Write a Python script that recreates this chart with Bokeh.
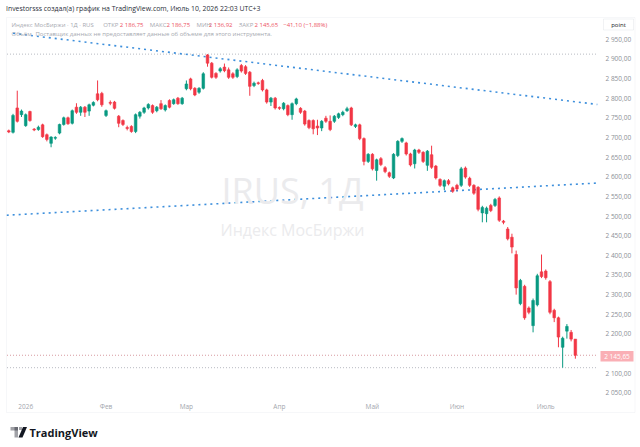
from bokeh.plotting import figure
from bokeh.models import (Label, BoxAnnotation, PolyAnnotation, FixedTicker,
                          Range1d, ColumnDataSource)
from bokeh.embed import file_html
from bokeh.resources import INLINE

# ---------------- data ----------------
ticker = "IRUS"
interval = "1Д"
exchange = "RUS"
instrument = "Индекс МосБиржи"
author_line = "Investorsss создал(а) график на TradingView.com, Июль 10, 2026 22:03 UTC+3"

opens = [2717, 2713, 2775, 2758, 2730, 2766, 2721, 2720, 2732, 2707,
         2685, 2698, 2711, 2733, 2750, 2736, 2777, 2764, 2777, 2767,
         2782, 2811, 2812, 2756, 2789, 2790, 2754, 2743, 2725, 2728,
         2715, 2754, 2764, 2775, 2781, 2768, 2786, 2770, 2794, 2786,
         2800, 2786, 2824, 2849, 2825, 2815, 2825, 2910, 2889, 2863,
         2869, 2879, 2872, 2862, 2855, 2883, 2880, 2866, 2832, 2839,
         2845, 2821, 2790, 2800, 2776, 2773, 2781, 2758, 2786, 2774,
         2767, 2743, 2743, 2729, 2724, 2749, 2741, 2741, 2751, 2758,
         2768, 2775, 2728, 2732, 2697, 2639, 2657, 2616, 2646, 2623,
         2610, 2597, 2654, 2690, 2686, 2658, 2633, 2668, 2662, 2629,
         2656, 2627, 2593, 2576, 2590, 2572, 2578, 2578, 2622, 2596,
         2578, 2573, 2508, 2506, 2527, 2527, 2546, 2487, 2467, 2446,
         2402, 2277, 2321, 2266, 2221, 2274, 2358, 2360, 2333, 2260,
         2241, 2166, 2207, 2204, 2186.75]
highs = [2720, 2760, 2819, 2771, 2761, 2768, 2724, 2730, 2735, 2710,
         2703, 2703, 2735, 2753, 2753, 2771, 2787, 2780, 2780, 2786,
         2792, 2845, 2816, 2771, 2794, 2793, 2757, 2746, 2730, 2731,
         2761, 2767, 2778, 2787, 2784, 2780, 2795, 2784, 2797, 2799,
         2803, 2803, 2845, 2852, 2828, 2828, 2866, 2912, 2892, 2866,
         2879, 2888, 2878, 2866, 2876, 2887, 2884, 2869, 2842, 2842,
         2849, 2824, 2803, 2803, 2779, 2790, 2784, 2789, 2801, 2777,
         2770, 2746, 2746, 2745, 2744, 2755, 2756, 2757, 2763, 2768,
         2778, 2778, 2735, 2735, 2700, 2660, 2660, 2646, 2650, 2627,
         2613, 2660, 2693, 2700, 2689, 2661, 2671, 2671, 2665, 2668,
         2679, 2630, 2596, 2593, 2594, 2575, 2582, 2625, 2626, 2600,
         2581, 2576, 2526, 2524, 2531, 2546, 2550, 2490, 2472, 2455,
         2412, 2340, 2325, 2270, 2290, 2353, 2402, 2364, 2337, 2264,
         2244, 2193, 2225, 2210, 2186.75]
lows = [2711, 2710, 2738, 2752, 2727, 2740, 2716, 2717, 2699, 2690,
        2675, 2694, 2708, 2730, 2732, 2733, 2760, 2755, 2752, 2755,
        2779, 2792, 2778, 2752, 2782, 2771, 2726, 2729, 2718, 2712,
        2711, 2748, 2760, 2771, 2760, 2764, 2770, 2766, 2774, 2783,
        2783, 2783, 2820, 2820, 2805, 2811, 2822, 2880, 2850, 2849,
        2865, 2866, 2849, 2849, 2851, 2865, 2859, 2806, 2828, 2834,
        2817, 2786, 2780, 2771, 2770, 2769, 2754, 2745, 2782, 2760,
        2730, 2721, 2708, 2706, 2716, 2737, 2716, 2737, 2747, 2754,
        2765, 2729, 2724, 2693, 2629, 2635, 2616, 2590, 2627, 2609,
        2597, 2594, 2650, 2686, 2654, 2626, 2621, 2658, 2635, 2615,
        2620, 2593, 2574, 2566, 2578, 2559, 2565, 2574, 2595, 2574,
        2554, 2512, 2484, 2484, 2510, 2523, 2485, 2479, 2438, 2405,
        2300, 2273, 2236, 2250, 2204, 2270, 2342, 2338, 2250, 2230,
        2166, 2114, 2188, 2181, 2136.92]
closes = [2714, 2756, 2741, 2767, 2758, 2743, 2719, 2726, 2702, 2695,
          2701, 2700, 2733, 2750, 2735, 2768, 2764, 2777, 2764, 2783,
          2789, 2796, 2783, 2768, 2787, 2774, 2736, 2733, 2723, 2715,
          2758, 2764, 2775, 2784, 2764, 2777, 2773, 2781, 2777, 2796,
          2786, 2800, 2836, 2824, 2808, 2825, 2862, 2889, 2853, 2853,
          2875, 2870, 2853, 2853, 2872, 2869, 2863, 2830, 2838, 2837,
          2821, 2790, 2800, 2775, 2774, 2787, 2758, 2786, 2798, 2764,
          2734, 2725, 2722, 2724, 2741, 2741, 2720, 2754, 2760, 2764,
          2773, 2732, 2732, 2697, 2639, 2657, 2620, 2643, 2631, 2613,
          2601, 2657, 2690, 2697, 2658, 2630, 2668, 2662, 2639, 2665,
          2624, 2597, 2578, 2590, 2582, 2563, 2569, 2620, 2599, 2578,
          2558, 2517, 2522, 2520, 2514, 2542, 2489, 2484, 2442, 2421,
          2317, 2336, 2241, 2255, 2285, 2348, 2346, 2343, 2255, 2241,
          2192, 2189, 2219, 2186.75, 2145.65]

month_ticks = [4, 23, 42, 64, 86, 106, 127]
month_labels = ["2026", "Фев", "Мар", "Апр", "Май", "Июн", "Июль"]
# 2 150 is hidden behind the last-price badge, as in the original
price_ticks = [2050, 2100, 2200, 2250, 2300, 2350, 2400, 2450, 2500,
               2550, 2600, 2650, 2700, 2750, 2800, 2850, 2900, 2950]

trend_upper_x = [1, 139.2]
trend_upper_y = [2965, 2784]
trend_lower_x = [-0.5, 139.2]
trend_lower_y = [2502, 2584]
hline_levels = [2912, 2114]

# ---------------- helpers ----------------
def fmt(v):
    return f"{v:,.2f}".replace(",", " ").replace(".", ",")

def fmt_signed(v):
    return ("\u2212" if v < 0 else "+") + fmt(abs(v))

# canvas-pixel -> data mapping used to place decorations
PX0, PXS = 8.3, 4.228
PY0, PYS = 38.7, 334.0 / 850.0

def dx(px):
    return (px - PX0) / PXS

def dy(py):
    return 2950 - (py - PY0) / PYS

UP = "#089981"
DOWN = "#F23645"
FONT = "Open Sans"
W, H = 640, 447

p = figure(width=W, height=H,
           x_range=Range1d(dx(0), dx(W)), y_range=Range1d(dy(H), dy(0)),
           y_axis_location="right", output_backend="svg", toolbar_location=None,
           min_border=0, min_border_left=0, min_border_right=0,
           min_border_top=0, min_border_bottom=0)
p.background_fill_color = "white"
p.border_fill_color = "white"
p.outline_line_color = None
p.grid.visible = False

# axes (drawn at the chart pane edges)
p.xaxis.ticker = FixedTicker(ticks=month_ticks)
p.xaxis.major_label_overrides = {t: l for t, l in zip(month_ticks, month_labels)}
p.xaxis.fixed_location = dy(398)
p.yaxis.ticker = FixedTicker(ticks=price_ticks)
p.yaxis.major_label_overrides = {t: fmt(t) for t in price_ticks}
p.yaxis.fixed_location = dx(598)
for ax in (p.xaxis, p.yaxis):
    ax.axis_line_color = None
    ax.major_tick_line_color = None
    ax.minor_tick_line_color = None
    ax.major_tick_out = 0
    ax.major_tick_in = 0
    ax.major_label_text_font = FONT
    ax.major_label_text_font_size = "6.5px"
p.xaxis.major_label_text_color = "#a3a6ad"
p.xaxis.major_label_standoff = 3
p.yaxis.major_label_text_color = "#8c8f96"
p.yaxis.major_label_standoff = 7

# pane border
p.add_layout(BoxAnnotation(left=dx(6), right=dx(634.5), top=dy(17), bottom=dy(412),
                           fill_color=None, line_color="#e0e3eb", line_width=1))

# watermark
p.add_layout(Label(x=dx(292), y=dy(190), text=f"{ticker}, {interval}", text_align="center",
                   text_baseline="middle", text_font=FONT, text_font_size="36px",
                   text_color="#ebebed"))
p.add_layout(Label(x=dx(292), y=dy(229), text=instrument, text_align="center",
                   text_baseline="middle", text_font=FONT, text_font_size="16px",
                   text_color="#ebebed"))

# horizontal levels & last-price line (inside the pane only)
xl, xr = dx(6.5), dx(597)
p.segment(x0=[xl] * len(hline_levels), y0=hline_levels, x1=[xr] * len(hline_levels),
          y1=hline_levels, line_color="#b8bbc2", line_width=1, line_dash="1 2")
p.segment(x0=[xl], y0=[closes[-1]], x1=[xr], y1=[closes[-1]],
          line_color="#d79aa0", line_width=1, line_dash="1 2")

# trend lines
p.line(trend_upper_x, trend_upper_y, line_color="#3d8fdc", line_width=1.6, line_dash="2 4")
p.line(trend_lower_x, trend_lower_y, line_color="#3d8fdc", line_width=1.6, line_dash="2 4")

# candles
idx = list(range(len(opens)))
colors = [UP if c > o else DOWN for o, c in zip(opens, closes)]
src = ColumnDataSource(dict(x=idx, h=highs, l=lows,
                            top=[max(o, c) for o, c in zip(opens, closes)],
                            bottom=[min(o, c) for o, c in zip(opens, closes)],
                            color=colors))
p.segment(x0="x", y0="h", x1="x", y1="l", source=src, line_color="color", line_width=1)
p.vbar(x="x", width=0.62, top="top", bottom="bottom", source=src,
       fill_color="color", line_color="color", line_width=0.6)

# texts
def lab(text, px, py, size, color, align="left", bold=False, baseline="middle"):
    p.add_layout(Label(x=dx(px), y=dy(py), text=text, text_align=align,
                       text_baseline=baseline, text_font=FONT, text_font_size=size,
                       text_color=color, text_font_style="bold" if bold else "normal"))

lab(author_line, 5.5, 7.5, "6.9px", "#2a2e39")
GRAY = "#a6a9b0"
RED = "#ec5262"
ly = 24
lab(f"{instrument} · {interval} · {exchange}", 11, ly, "6px", GRAY)
lab("ОТКР", 102.7, ly, "6px", GRAY)
lab(fmt(opens[-1]), 119.3, ly, "6px", RED)
lab("МАКС", 149.3, ly, "6px", GRAY)
lab(fmt(highs[-1]), 166, ly, "6px", RED)
lab("МИН", 196, ly, "6px", GRAY)
lab(fmt(lows[-1]), 208.3, ly, "6px", RED)
lab("ЗАКР", 238.3, ly, "6px", GRAY)
lab(fmt(closes[-1]), 254, ly, "6px", RED)
chg = closes[-1] - closes[-2]
pct = chg / closes[-2] * 100
lab(f"{fmt_signed(chg)} ({fmt_signed(pct)}%)", 282.7, ly, "6px", RED)
lab("Объём", 11, 33, "6px", GRAY)
lab("Поставщик данных не предоставляет данные об объеме для этого инструмента.",
    35, 33, "6px", GRAY)

# price-scale boxes
p.add_layout(BoxAnnotation(left=dx(603), right=dx(633), top=dy(18.5), bottom=dy(29.5),
                           fill_color="white", line_color="#d1d4dc", line_width=1))
lab("point", 618, 24, "6px", "#131722", align="center")
p.add_layout(BoxAnnotation(left=dx(600), right=dx(633), top=dy(350.5), bottom=dy(361),
                           fill_color=DOWN, line_color=None))
lab(fmt(closes[-1]), 616.5, 355.8, "6.5px", "white", align="center")

# TradingView logo
p.add_layout(BoxAnnotation(left=dx(10), right=dx(17.5), top=dy(426.5), bottom=dy(430),
                           fill_color="#131722", line_color=None))
p.add_layout(BoxAnnotation(left=dx(14), right=dx(17.5), top=dy(426.5), bottom=dy(437),
                           fill_color="#131722", line_color=None))
p.add_layout(BoxAnnotation(left=dx(18.5), right=dx(21.5), top=dy(426.5), bottom=dy(429.5),
                           fill_color="#131722", line_color=None))
p.add_layout(PolyAnnotation(xs=[dx(22.5), dx(26.5), dx(22), dx(18)],
                            ys=[dy(426.5), dy(426.5), dy(437), dy(437)],
                            fill_color="#131722", fill_alpha=1, line_color=None))
lab("TradingView", 29, 432, "11px", "#131722", bold=True)

html = file_html(p, INLINE, title="IRUS")
with open("out.html", "w") as f:
    f.write(html)
